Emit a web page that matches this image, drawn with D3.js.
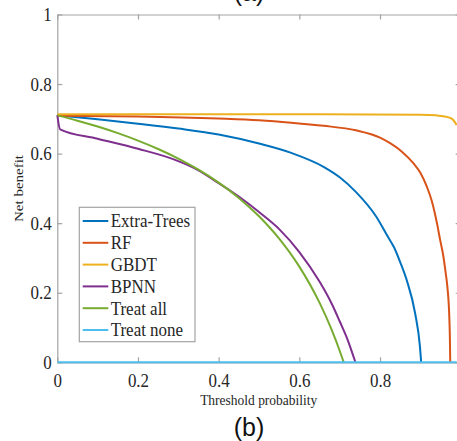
<!DOCTYPE html>
<html>
<head>
<meta charset="utf-8">
<script src="https://cdn.jsdelivr.net/npm/d3@7"></script>
<style>
  body { margin: 0; background: #fff; }
  svg { display: block; }
</style>
</head>
<body>
<div id="chart"></div>
<script>
// threshold probabilities and net benefit for each model
const extraTreesX = [0, 0.1, 0.2, 0.3, 0.4, 0.5, 0.58, 0.66, 0.7, 0.74, 0.79, 0.82, 0.835, 0.85, 0.866, 0.887, 0.899, 0.902];
const extraTreesY = [0.71, 0.699, 0.686, 0.672, 0.655, 0.629, 0.602, 0.562, 0.532, 0.49, 0.42, 0.36, 0.33, 0.288, 0.237, 0.141, 0.045, 0];

const rfX = [0, 0.2, 0.4, 0.5, 0.58, 0.66, 0.74, 0.8, 0.825, 0.855, 0.883, 0.9, 0.916, 0.928, 0.936, 0.942, 0.949, 0.957, 0.963, 0.967, 0.972, 0.9735, 0.974];
const rfY = [0.709, 0.707, 0.701, 0.696, 0.689, 0.68, 0.667, 0.646, 0.63, 0.605, 0.572, 0.545, 0.505, 0.465, 0.428, 0.395, 0.352, 0.305, 0.255, 0.217, 0.122, 0.05, 0];

const gbdtX = [0, 0.5, 0.9, 0.94, 0.96, 0.975, 0.982, 0.99];
const gbdtY = [0.713, 0.713, 0.712, 0.71, 0.707, 0.702, 0.696, 0.682];

const bpnnX = [0, 0.007, 0.1, 0.2, 0.292, 0.35, 0.4, 0.43, 0.46, 0.5, 0.55, 0.6, 0.65, 0.68, 0.7, 0.72, 0.739];
const bpnnY = [0.711, 0.67, 0.643, 0.614, 0.582, 0.552, 0.515, 0.492, 0.468, 0.432, 0.383, 0.317, 0.232, 0.169, 0.118, 0.064, 0];

const treatAllX = [0, 0.05, 0.1, 0.15, 0.2, 0.25, 0.3, 0.35, 0.4, 0.45, 0.5, 0.55, 0.6, 0.65, 0.68, 0.7, 0.71];
const treatAllY = [0.71, 0.6947, 0.6778, 0.6588, 0.6375, 0.6133, 0.5857, 0.5538, 0.5167, 0.4727, 0.42, 0.3556, 0.275, 0.1714, 0.0938, 0.0333, 0];

const treatNoneX = [0, 0.99];
const treatNoneY = [0, 0];

const seriesNames = ["Extra-Trees", "RF", "GBDT", "BPNN", "Treat all", "Treat none"];
const seriesColors = ["#0072BD", "#D95319", "#EDB120", "#7E2F8E", "#77AC30", "#4DBEEE"];
const xTicks = [0, 0.2, 0.4, 0.6, 0.8];
const yTicks = [0, 0.2, 0.4, 0.6, 0.8, 1];

const width = 457;
const height = 441;
const squish = 0.87; // text in the picture is a little narrow
const serif = '"Liberation Serif", "Times New Roman", serif';

const svg = d3.select("#chart")
  .append("svg")
  .attr("width", width)
  .attr("height", height);

const x = d3.scaleLinear().domain([0, 1]).range([57.3, 460.7]);
const y = d3.scaleLinear().domain([0, 1]).range([362.3, 14.5]);

const fmt = d3.format("~g");
const axisColor = "#a3a3a3";

const styleAxis = (g) => {
  g.select(".domain").attr("stroke", axisColor).attr("stroke-width", 1.2);
  g.selectAll(".tick line").attr("stroke", axisColor).attr("stroke-width", 1.2);
  g.selectAll(".tick text")
    .attr("fill", "#262626")
    .style("font-family", serif)
    .style("font-size", "19.5px");
};

// bottom axis with labels
svg.append("g")
  .attr("transform", `translate(0,${y(0)})`)
  .call(d3.axisBottom(x).tickValues(xTicks).tickFormat(fmt).tickSizeInner(-5).tickSizeOuter(0).tickPadding(10.6))
  .call(styleAxis)
  .call((g) => g.selectAll(".tick text").attr("transform", `scale(${squish},1)`));

// left axis with labels
svg.append("g")
  .attr("transform", `translate(${x(0)},0)`)
  .call(d3.axisLeft(y).tickValues(yTicks).tickFormat(fmt).tickSizeInner(-5).tickSizeOuter(0).tickPadding(6.4))
  .call(styleAxis)
  .call((g) => g.selectAll(".tick text").attr("transform", `scale(${squish},1)`));

// top and right box lines
svg.append("g")
  .attr("transform", `translate(0,${y(1)})`)
  .call(d3.axisTop(x).tickValues(xTicks.concat([1])).tickFormat("").tickSizeInner(-5).tickSizeOuter(0))
  .call(styleAxis);

svg.append("g")
  .attr("transform", `translate(${x(1)},0)`)
  .call(d3.axisRight(y).tickValues(yTicks).tickFormat("").tickSizeInner(-5).tickSizeOuter(0))
  .call(styleAxis);

// curves
const allSeries = [
  [extraTreesX, extraTreesY],
  [rfX, rfY],
  [gbdtX, gbdtY],
  [bpnnX, bpnnY],
  [treatAllX, treatAllY],
  [treatNoneX, treatNoneY],
];

const line = d3.line()
  .x((d) => x(d[0]))
  .y((d) => y(d[1]))
  .curve(d3.curveMonotoneX);

allSeries.forEach(([xs, ys], i) => {
  const pts = xs.map((v, j) => [v, ys[j]]);
  svg.append("path")
    .datum(pts)
    .attr("d", line)
    .attr("fill", "none")
    .attr("stroke", seriesColors[i])
    .attr("stroke-width", 2)
    .attr("stroke-linejoin", "round");
});

// legend
const legend = svg.append("g");
legend.append("rect")
  .attr("x", 79.3)
  .attr("y", 207.3)
  .attr("width", 115.7)
  .attr("height", 134.4)
  .attr("fill", "#fff")
  .attr("stroke", axisColor)
  .attr("stroke-width", 1.2);

seriesNames.forEach((name, i) => {
  const ly = 221 + i * 21.8;
  legend.append("line")
    .attr("x1", 82.7)
    .attr("x2", 108.3)
    .attr("y1", ly)
    .attr("y2", ly)
    .attr("stroke", seriesColors[i])
    .attr("stroke-width", 2);
  legend.append("text")
    .attr("transform", `translate(110.7,${ly + 6.4}) scale(${squish},1)`)
    .attr("fill", "#262626")
    .style("font-family", serif)
    .style("font-size", "19.5px")
    .text(name);
});

// axis titles
svg.append("text")
  .attr("transform", `translate(258.7,405) scale(${squish},1)`)
  .attr("text-anchor", "middle")
  .attr("fill", "#262626")
  .style("font-family", serif)
  .style("font-size", "15.5px")
  .text("Threshold probability");

svg.append("text")
  .attr("transform", `translate(23,188.5) rotate(-90) scale(1,${squish})`)
  .attr("text-anchor", "middle")
  .attr("fill", "#262626")
  .style("font-family", serif)
  .style("font-size", "15px")
  .text("Net benefit");

// panel captions ("(a)" belongs to the panel above and is cut by the top edge)
svg.append("text")
  .attr("x", 249)
  .attr("y", 435.7)
  .attr("text-anchor", "middle")
  .attr("fill", "#111")
  .style("font-family", '"Liberation Sans", Arial, sans-serif')
  .style("font-size", "25px")
  .text("(b)");

svg.append("text")
  .attr("x", 249)
  .attr("y", 1)
  .attr("text-anchor", "middle")
  .attr("fill", "#111")
  .style("font-family", '"Liberation Sans", Arial, sans-serif')
  .style("font-size", "25px")
  .text("(a)");
</script>
</body>
</html>
